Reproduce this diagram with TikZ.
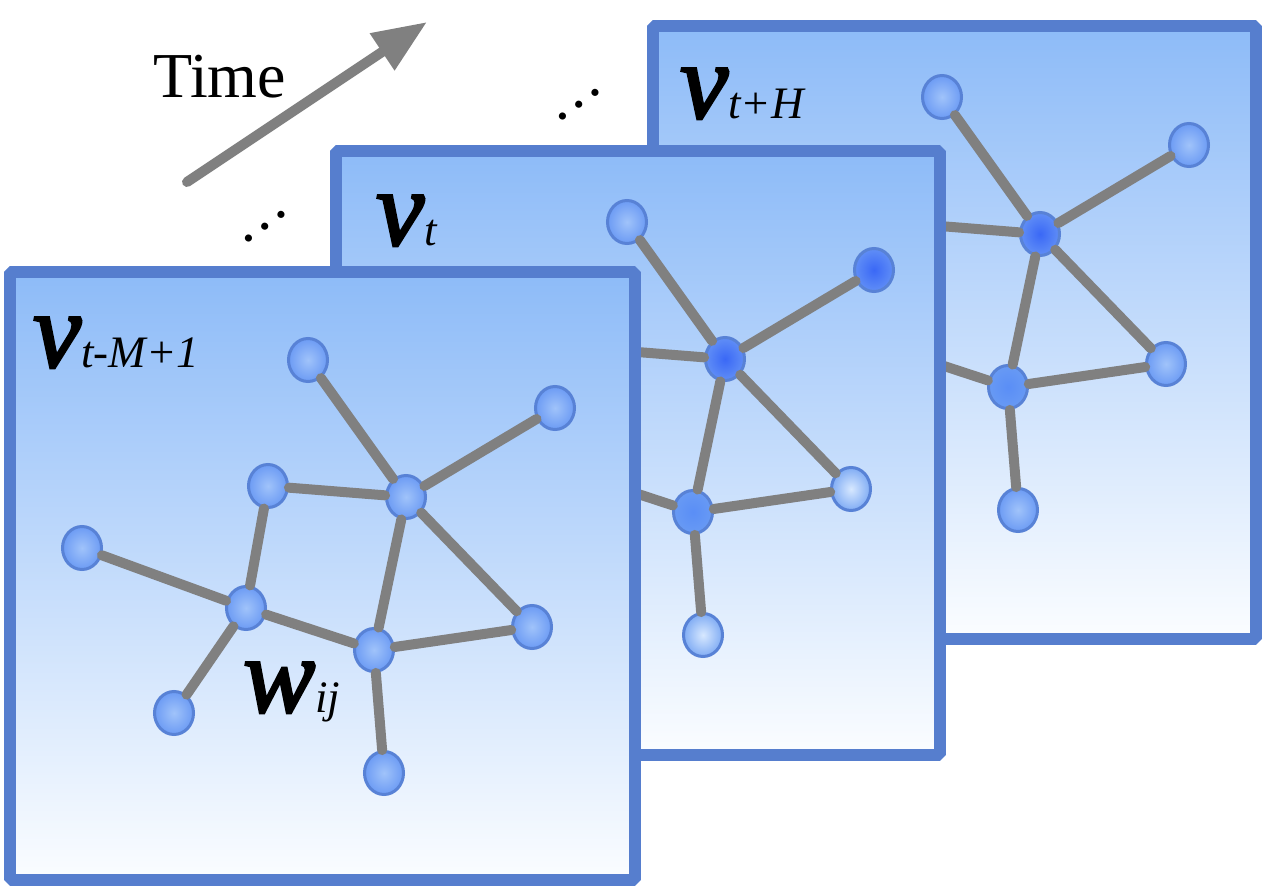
\documentclass[tikz,border=0pt]{standalone}
\usepackage{fontspec}
\setmainfont{Liberation Serif}
\newfontface\vfont{Liberation Serif Italic}[FakeBold=2.5]
\usetikzlibrary{shapes.geometric,arrows.meta}
\definecolor{panelline}{RGB}{86,126,206}
\definecolor{paneltop}{RGB}{141,187,248}
\definecolor{panelbot}{RGB}{251,253,255}
\definecolor{edgegray}{RGB}{128,128,128}
\definecolor{nodeline}{RGB}{88,130,214}
\definecolor{nIn}{RGB}{160,195,250}
\definecolor{nOut}{RGB}{108,155,244}
\definecolor{dIn}{RGB}{58,104,246}
\definecolor{dOut}{RGB}{96,142,246}
\definecolor{mIn}{RGB}{90,142,246}
\definecolor{mOut}{RGB}{104,154,244}
\definecolor{lIn}{RGB}{215,232,255}
\definecolor{lOut}{RGB}{128,172,244}
\newcommand\vsym[1]{{\fontsize{108}{108}\selectfont\vfont #1}}
\newcommand\subsym{\fontsize{45}{45}\selectfont\mdseries\itshape}
\tikzset{
  panel/.style={draw=panelline, line width=12pt, top color=paneltop, bottom color=panelbot, line join=bevel},
  gnode/.style={ellipse, draw=nodeline, line width=3pt, minimum width=39pt, minimum height=43pt, inner sep=0pt},
  nnormal/.style={inner color=nIn, outer color=nOut},
  ndark/.style={inner color=dIn, outer color=dOut},
  nmed/.style={inner color=mIn, outer color=mOut},
  nlight/.style={inner color=lIn, outer color=lOut},
  edge/.style={draw=edgegray, line width=10pt, line cap=round},
  tarrow/.style={draw=edgegray, line width=10pt, line cap=round, -{Triangle[length=54pt,width=42pt]}, fill=edgegray},
  lbl/.style={anchor=base west, inner sep=0pt},
  sA/.style=nnormal, sB/.style=nnormal, sC/.style=nnormal, sD/.style=nnormal, sE/.style=nnormal,
  sF/.style=nnormal, sG/.style=nnormal, sH/.style=nnormal, sI/.style=nnormal, sJ/.style=nnormal
}
\newcommand\mygraph[1]{%
  \node[gnode,sA] (#1A) at (308,360) {};
  \node[gnode,sB] (#1B) at (555,408) {};
  \node[gnode,sC] (#1C) at (268,486) {};
  \node[gnode,sD] (#1D) at (406,497) {};
  \node[gnode,sE] (#1E) at (82,548) {};
  \node[gnode,sF] (#1F) at (246,608) {};
  \node[gnode,sG] (#1G) at (374,650) {};
  \node[gnode,sH] (#1H) at (532,627) {};
  \node[gnode,sI] (#1I) at (174,713) {};
  \node[gnode,sJ] (#1J) at (384,773) {};
  \draw[edge] (#1A)--(#1D) (#1B)--(#1D) (#1C)--(#1D) (#1C)--(#1F) (#1E)--(#1F)
    (#1F)--(#1G) (#1D)--(#1G) (#1D)--(#1H) (#1G)--(#1H) (#1F)--(#1I) (#1G)--(#1J);
}
\begin{document}
\begin{tikzpicture}[x=1pt,y=-1pt]
\useasboundingbox (0,0) rectangle (1262,891);
% back panel
\draw[panel] (652.5,26) rectangle (1256,638.5);
\begin{scope}[shift={(634,-263)}, sD/.style=ndark, sG/.style=nmed]
  \mygraph{b}
\end{scope}
\node[lbl] (lb) at (680,118) {\vsym{v}\subsym t+H};
% middle panel
\draw[panel] (335.5,151) rectangle (939.5,755);
\begin{scope}[shift={(319,-138)}, sB/.style=ndark, sD/.style=ndark, sG/.style=nmed, sH/.style=nlight, sJ/.style=nlight]
  \mygraph{m}
\end{scope}
\node[lbl] (lm) at (376,245) {\vsym{v}\subsym t};
% front panel
\draw[panel] (10,272) rectangle (635,880);
\mygraph{f}
\node[lbl] (lf) at (33,367) {\vsym{v}\subsym t-M+1};
\node[lbl] (lw) at (243,712) {\vsym{w}\subsym ij};
% time arrow
\coordinate (ts) at (187,182);
\coordinate (te) at (427,22);
\draw[tarrow] (ts) -- (te);
\node[lbl, font=\fontsize{64}{64}\selectfont] (time) at (153,97) {Time};
\node[rotate=36, font=\fontsize{60}{60}\selectfont, inner sep=0pt] (dots1) at (579,105) {…};
\node[rotate=36, font=\fontsize{60}{60}\selectfont, inner sep=0pt] (dots2) at (265,227) {…};
\end{tikzpicture}
\end{document}
